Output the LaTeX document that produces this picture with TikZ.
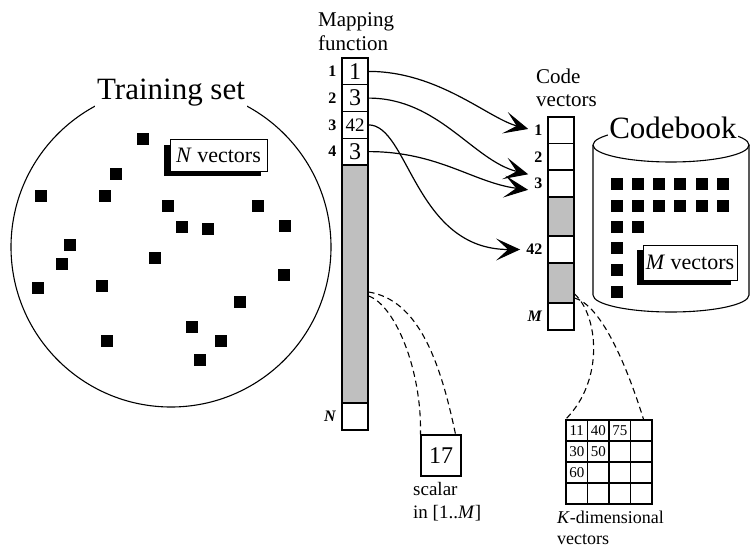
\documentclass[tikz,border=0pt]{standalone}
\usepackage{fontspec}
\setmainfont{Liberation Serif}
\usepackage{tikz}
\usetikzlibrary{
  arrows.meta,
  positioning,
  shadows,
}

\begin{document}
\begin{tikzpicture}[
  x=1pt, y=-1pt,
  every node/.style={align=left},
  big/.style={font=\fontsize{31}{34}\selectfont},
  head/.style={font=\fontsize{21}{23.5}\selectfont, inner sep=0pt},
  note/.style={font=\fontsize{19}{23}\selectfont, inner sep=0pt},
  cell/.style={draw, line width=1.1pt, minimum width=26pt, inner sep=0pt,
               font=\fontsize{24}{24}\selectfont},
  gcell/.style={draw, line width=1.1pt, minimum width=21.5pt, minimum height=21pt,
                inner sep=0pt},
  idx/.style={font=\bfseries\fontsize{16}{16}\selectfont, inner sep=1pt},
  dot/.style={fill=black, minimum size=12pt, inner sep=0pt},
  tag/.style={draw, line width=1pt, fill=white, inner sep=0pt,
              font=\fontsize{22}{22}\selectfont,
              drop shadow={shadow xshift=-6pt, shadow yshift=-5pt, fill=black, opacity=1}},
  map/.style={-{Stealth[length=24pt, width=22pt, inset=12pt, line width=1pt]},
              line width=1.2pt, shorten >=5pt},
  link/.style={dash pattern=on 6pt off 4pt, line width=1.1pt},
]
\useasboundingbox (0,0) rectangle (751,548);

% training set
\node[draw, circle, line width=1.1pt, minimum size=320pt] (tset) at (171,247) {};
\node[big, fill=white, inner sep=2pt, anchor=base] (ttl) at (171,100) {Training set};
\foreach \x/\y [count=\i] in {143/139,116/174,41/196,105/196,168/206,258/206,182/227,
    208/229,285/226,70/245,155/258,62/264,284/275,38/288,102/286,240/302,192/327,
    107/341,221/341,200/360}
  \node[dot] (t\i) at (\x,\y) {};
\node[tag, minimum width=97pt, minimum height=31pt] (nvec) at (218.5,155.5) {\textit{N} vectors};

% mapping function
\node[head, anchor=north west] (mhead) at (318,12.5) {Mapping\\function};
\node[cell, minimum height=26.75pt] (m1) at (355,71.4) {1};
\node[cell, minimum height=26.75pt] (m2) at (355,98.1) {3};
\node[cell, minimum height=26.75pt, font=\fontsize{19}{19}\selectfont] (m3) at (355,124.9) {42};
\node[cell, minimum height=26.75pt] (m4) at (355,151.6) {3};
\node[cell, minimum height=238pt, fill=black!25] (mg) at (355,284) {};
\node[cell, minimum height=27pt] (mN) at (355,416.5) {};
\node[idx, left=4pt of m1] (r1) {1};
\node[idx, left=4pt of m2] (r2) {2};
\node[idx, left=4pt of m3] (r3) {3};
\node[idx, left=4pt of m4] (r4) {4};
\node[idx, left=4pt of mN] (rN) {\textit{N}};

% code vectors
\node[head, anchor=north west] (chead) at (536,68.5) {Code\\vectors};
\node[cell, minimum height=26.5pt] (c1) at (561,130.25) {};
\node[cell, minimum height=26.5pt] (c2) at (561,156.75) {};
\node[cell, minimum height=27pt] (c3) at (561,183.5) {};
\node[cell, minimum height=39pt, fill=black!25] (cg1) at (561,216.5) {};
\node[cell, minimum height=27pt] (c42) at (561,249.5) {};
\node[cell, minimum height=40pt, fill=black!25] (cg2) at (561,283) {};
\node[cell, minimum height=27pt] (cM) at (561,316.5) {};
\node[idx, left=4pt of c1] (l1) {1};
\node[idx, left=4pt of c2] (l2) {2};
\node[idx, left=4pt of c3] (l3) {3};
\node[idx, left=4pt of c42] (l42) {42};
\node[idx, left=4pt of cM] (lM) {\textit{M}};

\draw[map] (m1.east) .. controls +(70,0) and +(-45,-12) .. (l1.west);
\draw[map] (m2.east) .. controls +(70,0) and +(-60,-15) .. ([yshift=8pt]l3.west);
\draw[map] (m4.east) .. controls +(70,0) and +(-60,-8) .. ([yshift=-7pt]l3.west);
\draw[map] (m3.east) .. controls +(40,0) and +(-110,0) .. (l42.west);

% codebook
\draw[line width=1.1pt] (593,145) -- (593,295)
  arc[start angle=180, end angle=360, x radius=78pt, y radius=17pt] -- (749,145);
\draw[line width=1.1pt] (671,145) ellipse[x radius=78pt, y radius=17pt];
\node[big, fill=white, inner sep=1pt, anchor=base] (cbk) at (673,139) {Codebook};
\foreach \x/\y [count=\i] in {617/184,638/184,659/184,680/184,702/184,723/184,
    617/206,638/206,659/206,680/206,702/206,723/206,617/227,638/227,
    617/248,617/270,617/292}
  \node[dot] (b\i) at (\x,\y) {};
\node[tag, minimum width=94pt, minimum height=35pt] (mvec) at (690,262.5) {\textit{M} vectors};

% scalar
\node[cell, minimum width=40pt, minimum height=41pt, font=\fontsize{24}{24}\selectfont]
  (s17) at (441,455.5) {17};
\node[note, anchor=north west] (sc) at (413,482) {scalar\\in [1..\textit{M}]};
\draw[link] ([yshift=-12pt]mg.east) .. controls (395,305) and (422,370) .. (s17.north west);
\draw[link] ([yshift=-8pt]mg.east) .. controls (418,300) and (440,360) .. ([xshift=-6pt]s17.north east);

% K-dimensional vectors
\foreach \r in {1,...,4}
  \foreach \c in {1,...,4}
    \node[gcell] (g\r\c) at ({555.25+21.5*\c},{409.5+21*\r}) {};
\foreach \r/\c/\v in {1/1/11,1/2/40,1/3/75,2/1/30,2/2/50,3/1/60}
  \node[font=\fontsize{15}{15}\selectfont, inner sep=0pt] (v\r\c) at (g\r\c) {\v};
\node[note, font=\fontsize{18}{21}\selectfont, anchor=north west] (kd) at (557,511)
  {\textit{K}-dimensional\\vectors};
\draw[link] ([yshift=-11pt]cg2.east) .. controls (598,315) and (605,380) .. (g11.north west);
\draw[link] ([yshift=-15pt]cg2.east) .. controls (600,305) and (625,360) .. ([xshift=-9pt]g14.north east);

\end{tikzpicture}
\end{document}
